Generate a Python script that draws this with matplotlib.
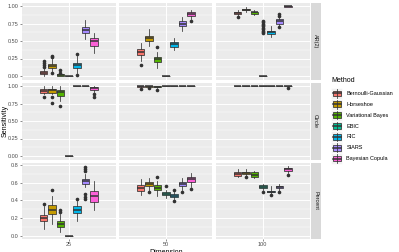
import matplotlib
matplotlib.use("Agg")
import matplotlib.pyplot as plt
from matplotlib.patches import Rectangle
from matplotlib.lines import Line2D

plt.rcParams['font.family'] = ['Liberation Sans', 'DejaVu Sans']

methods = ["Bernoulli-Gaussian", "Horseshoe", "Variational Bayes", "EBIC", "RIC",
           "SIARS", "Bayesian Copula"]
colors = ["#F8766D", "#C49A00", "#53B400", "#00C094", "#00B6EB", "#A58AFF", "#FB61D7"]
dimensions = ["25", "50", "100"]
row_names = ["AR(2)", "Circle", "Percent"]

# box stats per method: (whisker low, q1, median, q3, whisker high)
ar2_25 = [(0.00, 0.03, 0.05, 0.07, 0.12), (0.06, 0.12, 0.15, 0.17, 0.24),
          (0.00, 0.00, 0.01, 0.03, 0.04), (0, 0, 0, 0, 0),
          (0.05, 0.12, 0.16, 0.19, 0.28), (0.53, 0.61, 0.66, 0.70, 0.80),
          (0.33, 0.43, 0.50, 0.55, 0.62)]
ar2_25_out = [[0.13, 0.16, 0.19, 0.22], [0.04, 0.27, 0.28], [0.05, 0.08], [],
              [0.02, 0.32], [], []]
ar2_50 = [(0.22, 0.30, 0.34, 0.38, 0.47), (0.43, 0.50, 0.54, 0.57, 0.67),
          (0.12, 0.20, 0.24, 0.27, 0.35), (0, 0, 0, 0, 0),
          (0.37, 0.42, 0.46, 0.49, 0.55), (0.65, 0.71, 0.75, 0.78, 0.84),
          (0.82, 0.86, 0.89, 0.91, 0.95)]
ar2_50_out = [[0.16], [], [0.42], [], [], [], [0.79]]
ar2_100 = [(0.85, 0.89, 0.90, 0.92, 0.95), (0.92, 0.94, 0.95, 0.96, 0.98),
           (0.87, 0.89, 0.91, 0.92, 0.94), (0, 0, 0, 0, 0),
           (0.56, 0.60, 0.63, 0.65, 0.72), (0.71, 0.75, 0.78, 0.81, 0.84),
           (0.98, 0.99, 1.00, 1.00, 1.00)]
ar2_100_out = [[0.84], [], [], [0.61, 0.63, 0.65, 0.67, 0.69, 0.71, 0.73, 0.75, 0.77, 0.79],
               [], [0.70, 0.86, 0.88], []]

circle_25 = [(0.88, 0.90, 0.93, 0.96, 1.00), (0.88, 0.90, 0.94, 0.96, 1.00),
             (0.79, 0.86, 0.91, 0.95, 1.00), (0, 0, 0, 0, 0),
             (1, 1, 1, 1, 1), (1, 1, 1, 1, 1),
             (0.91, 0.94, 0.97, 0.99, 1.00)]
circle_25_out = [[0.84], [0.84, 0.76], [0.71], [], [], [], [0.88, 0.84]]
circle_50 = [(0.97, 0.98, 1.00, 1.00, 1.00), (0.98, 0.99, 1.00, 1.00, 1.00),
             (0.97, 0.98, 0.99, 1.00, 1.00), (1, 1, 1, 1, 1),
             (1, 1, 1, 1, 1), (1, 1, 1, 1, 1), (1, 1, 1, 1, 1)]
circle_50_out = [[0.96], [0.97], [0.94], [], [], [], []]
circle_100 = [(1, 1, 1, 1, 1), (1, 1, 1, 1, 1), (1, 1, 1, 1, 1), (1, 1, 1, 1, 1),
              (1, 1, 1, 1, 1), (1, 1, 1, 1, 1), (1, 1, 1, 1, 1)]
circle_100_out = [[], [], [], [], [], [], [0.97]]

percent_25 = [(0.07, 0.16, 0.20, 0.23, 0.33), (0.13, 0.25, 0.29, 0.35, 0.45),
              (0.04, 0.10, 0.13, 0.16, 0.25), (0, 0, 0, 0, 0),
              (0.16, 0.26, 0.29, 0.33, 0.39), (0.55, 0.585, 0.62, 0.645, 0.70),
              (0.29, 0.38, 0.45, 0.51, 0.62)]
percent_25_out = [[0.36], [0.52], [0.27, 0.29], [], [0.42],
                  [0.42, 0.44, 0.47, 0.73, 0.76, 0.78], []]
percent_50 = [(0.46, 0.51, 0.54, 0.57, 0.64), (0.50, 0.56, 0.58, 0.61, 0.65),
              (0.45, 0.52, 0.54, 0.57, 0.62), (0.43, 0.46, 0.47, 0.495, 0.52),
              (0.41, 0.44, 0.45, 0.47, 0.50), (0.52, 0.56, 0.59, 0.61, 0.65),
              (0.55, 0.61, 0.64, 0.66, 0.71)]
percent_50_out = [[], [0.49], [0.66], [0.56], [0.39, 0.52], [0.50], [0.53]]
percent_100 = [(0.66, 0.68, 0.70, 0.72, 0.76), (0.67, 0.70, 0.71, 0.72, 0.75),
               (0.65, 0.67, 0.69, 0.72, 0.73), (0.52, 0.54, 0.55, 0.57, 0.58),
               (0.47, 0.49, 0.50, 0.51, 0.56), (0.51, 0.54, 0.55, 0.56, 0.59),
               (0.71, 0.73, 0.75, 0.77, 0.79)]
percent_100_out = [[], [0.66], [], [0.50], [0.46], [0.50], [0.69]]

data = [[(ar2_25, ar2_25_out), (ar2_50, ar2_50_out), (ar2_100, ar2_100_out)],
        [(circle_25, circle_25_out), (circle_50, circle_50_out), (circle_100, circle_100_out)],
        [(percent_25, percent_25_out), (percent_50, percent_50_out), (percent_100, percent_100_out)]]

row_ticks = [[0, 0.25, 0.5, 0.75, 1.0], [0, 0.25, 0.5, 0.75, 1.0], [0, 0.2, 0.4, 0.6, 0.8]]
row_ticklabels = [["0.00", "0.25", "0.50", "0.75", "1.00"], ["0.00", "0.25", "0.50", "0.75", "1.00"],
                  ["0.0", "0.2", "0.4", "0.6", "0.8"]]

W, H = 399, 252
fig = plt.figure(figsize=(W / 100, H / 100), dpi=100)

cols_x = [(22, 115.5), (119, 212.5), (216, 309.5)]
rows_y = [(2.5, 79.5), (82.5, 159.5), (162.5, 239.0)]
strip_x = (310.5, 321)


def px_axes(x0, y0, x1, y1):
    return fig.add_axes([x0 / W, 1 - y1 / H, (x1 - x0) / W, (y1 - y0) / H])


n = len(methods)
slot = 0.75 / n
bw = slot * 0.9
lw = 0.55
for r in range(3):
    # y range from data (ggplot 5% expansion)
    vals = []
    for c in range(3):
        st, out = data[r][c]
        for s, o in zip(st, out):
            vals += list(s) + list(o)
    lo, hi = min(vals), max(vals)
    pad = (hi - lo) * 0.05
    ylim = (lo - pad, hi + pad)
    ticks = row_ticks[r]
    step = ticks[1] - ticks[0]
    minors = [t + step / 2 for t in ticks[:-1]] + [ticks[0] - step / 2]
    for c in range(3):
        x0, x1 = cols_x[c]
        y0, y1 = rows_y[r]
        ax = px_axes(x0, y0, x1, y1)
        ax.set_facecolor("#EBEBEB")
        for sp in ax.spines.values():
            sp.set_visible(False)
        ax.set_xlim(0.4, 1.6)
        ax.set_ylim(*ylim)
        for m in minors:
            ax.axhline(m, color="white", lw=0.35, zorder=0)
        for t in ticks:
            ax.axhline(t, color="white", lw=0.7, zorder=0)
        ax.axvline(1, color="white", lw=0.7, zorder=0)
        st, out = data[r][c]
        stats = []
        positions = []
        for i in range(n):
            wl, q1, med, q3, wh = st[i]
            stats.append(dict(whislo=wl, q1=q1, med=med, q3=q3, whishi=wh, fliers=out[i]))
            positions.append(1 + (i - (n - 1) / 2) * slot)
        bp = ax.bxp(stats, positions=positions, widths=bw, patch_artist=True,
                    showcaps=False, manage_ticks=False,
                    boxprops=dict(edgecolor="#333333", linewidth=lw),
                    whiskerprops=dict(color="#333333", linewidth=lw),
                    medianprops=dict(color="#333333", linewidth=lw * 2),
                    flierprops=dict(marker="o", markerfacecolor="#333333",
                                    markeredgecolor="#333333", markersize=1.6, linestyle="none"))
        for patch, col in zip(bp["boxes"], colors):
            patch.set_facecolor(col)
        ax.set_xticks([1])
        if r == 2:
            ax.set_xticklabels([dimensions[c]], fontsize=4, color="#4D4D4D")
        else:
            ax.set_xticklabels([])
        ax.set_yticks(ticks)
        if c == 0:
            ax.set_yticklabels(row_ticklabels[r], fontsize=4, color="#4D4D4D")
        else:
            ax.set_yticklabels([])
        ax.tick_params(axis="both", length=1.5, width=0.4, color="#333333", pad=1)
        if c != 0:
            ax.tick_params(axis="y", length=0)
        if r != 2:
            ax.tick_params(axis="x", length=0)
    # strip
    sax = px_axes(strip_x[0], rows_y[r][0], strip_x[1], rows_y[r][1])
    sax.set_facecolor("#D9D9D9")
    for sp in sax.spines.values():
        sp.set_visible(False)
    sax.set_xticks([])
    sax.set_yticks([])
    sax.text(0.5, 0.5, row_names[r], rotation=-90, ha="center", va="center",
             fontsize=4, color="#1A1A1A", transform=sax.transAxes)

# overlay for titles and legend
ov = fig.add_axes([0, 0, 1, 1])
ov.set_xlim(0, W)
ov.set_ylim(H, 0)
ov.axis("off")
ov.patch.set_alpha(0)
ov.text(5, (rows_y[0][0] + rows_y[2][1]) / 2, "Sensitivity", rotation=90,
        ha="center", va="center", fontsize=5)
ov.text((cols_x[0][0] + cols_x[2][1]) / 2, 249.3, "Dimension", ha="center", va="top", fontsize=5)
ov.text(331.5, 80.5, "Method", ha="left", va="center", fontsize=5)
key = 10.9
for i, (name, col) in enumerate(zip(methods, colors)):
    cy = 93.3 + i * key
    kx = 331.3
    ky = cy - key / 2
    ov.add_patch(Rectangle((kx, ky), key, key, facecolor="#F2F2F2", edgecolor="white", lw=0.4))
    xc = kx + key / 2
    ov.add_line(Line2D([xc, xc], [ky + 0.1 * key, ky + 0.9 * key], color="#333333", lw=lw))
    ov.add_patch(Rectangle((kx + 0.125 * key, ky + 0.25 * key), 0.75 * key, 0.5 * key,
                           facecolor=col, edgecolor="#333333", lw=lw))
    ov.add_line(Line2D([kx + 0.125 * key, kx + 0.875 * key], [cy, cy], color="#333333", lw=lw * 2))
    ov.text(346.5, cy, name, ha="left", va="center", fontsize=4, color="black")

fig.savefig("out.png", dpi=100)
